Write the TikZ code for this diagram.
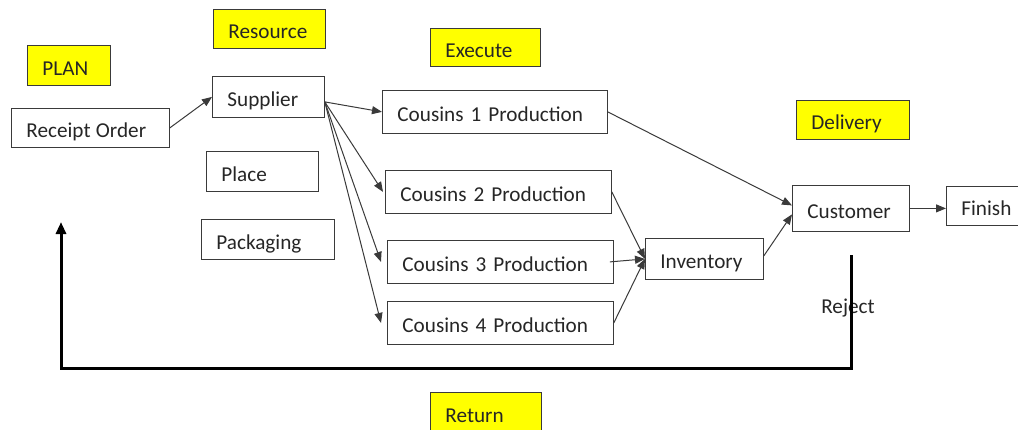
\documentclass[tikz,border=0pt]{standalone}
\usepackage{fontspec}
\setmainfont{Carlito}
\usetikzlibrary{arrows.meta,positioning}
\definecolor{TagYellow}{HTML}{FFFF00}
\definecolor{BoxLine}{HTML}{3A3A3A}

\begin{document}
\begin{tikzpicture}[
  x=0.5pt, y=-0.5pt,
  box/.style={draw=BoxLine, anchor=north west, align=left, inner xsep=7.5pt, inner ysep=0pt, text height=10pt, text depth=0pt, text=black!85, font=\fontsize{10.6}{12}\selectfont},
  tag/.style={box, fill=TagYellow},
  arrow/.style={-{Triangle[length=5pt,width=4pt]}, draw=BoxLine, line width=0.5pt},
  back/.style={-{Triangle[length=6pt,width=5pt]}, line width=1.5pt}
]
\useasboundingbox (0,0) rectangle (1018,429);

% stage labels
\node[tag, text width=26.5pt, minimum height=20pt] (plan) at (27,45) {PLAN};
\node[tag, text width=41pt, minimum height=19.5pt] (resource) at (213,9) {Resource};
\node[tag, text width=40pt, minimum height=19pt] (execute) at (430,28) {Execute};
\node[tag, text width=41.5pt, minimum height=19.5pt] (delivery) at (796,100) {Delivery};
\node[tag, text width=40.5pt, minimum height=20pt] (return) at (430,392) {Return};

% process boxes
\node[box, text width=64pt, minimum height=19.5pt] (order) at (11,108) {Receipt\hspace{0.25em}Order};
\node[box, text width=41pt, minimum height=20.5pt] (supplier) at (212,76) {Supplier};
\node[box, text width=41pt, minimum height=20pt] (place) at (206,151) {Place};
\node[box, text width=51.5pt, minimum height=20pt] (packaging) at (201,219) {Packaging};
\node[box, text width=97.5pt, minimum height=21.5pt] (cousin1) at (382,90) {Cousins 1 Production};
\node[box, text width=98pt, minimum height=21.5pt] (cousin2) at (385,170) {Cousins 2 Production};
\node[box, text width=98pt, minimum height=21.5pt] (cousin3) at (387,240) {Cousins 3 Production};
\node[box, text width=98pt, minimum height=21.5pt] (cousin4) at (387,301) {Cousins 4 Production};
\node[box, text width=44pt, minimum height=20.5pt] (inventory) at (645,238) {Inventory};
\node[box, text width=43.5pt, minimum height=23pt] (customer) at (792,185) {Customer};
\node[box, text width=30pt, minimum height=19.5pt] (finish) at (946,186) {Finish};
\node[text=black!85, font=\fontsize{10.6}{12}\selectfont] (reject) at (848,308) {Reject};

% return path
\coordinate (rejtop) at (851,255);
\coordinate (rettip) at (61,222);

\draw[arrow] (order.east) -- (supplier.west);
\draw[arrow] ([yshift=-2.5pt]supplier.east) -- (cousin1.west);
\draw[arrow] ([yshift=-2.5pt]supplier.east) -- ([xshift=-1pt]cousin2.west);
\draw[arrow] ([yshift=-2.5pt]supplier.east) -- ([xshift=-3pt]cousin3.west);
\draw[arrow] ([yshift=-2.5pt]supplier.east) -- ([xshift=-3pt]cousin4.west);
\draw[arrow] (cousin1.east) -- ([yshift=1.5pt]customer.west);
\draw[arrow] (cousin2.east) -- (inventory.west);
\draw[arrow] ([xshift=-2pt]cousin3.east) -- (inventory.west);
\draw[arrow] (cousin4.east) -- (inventory.west);
\draw[arrow] ([yshift=1.5pt]inventory.east) -- ([yshift=-3pt]customer.west);
\draw[arrow] (customer.east) -- (customer.east -| finish.west);
\draw[back] (rejtop) -- ++(0,113) -| (rettip);
\end{tikzpicture}
\end{document}
